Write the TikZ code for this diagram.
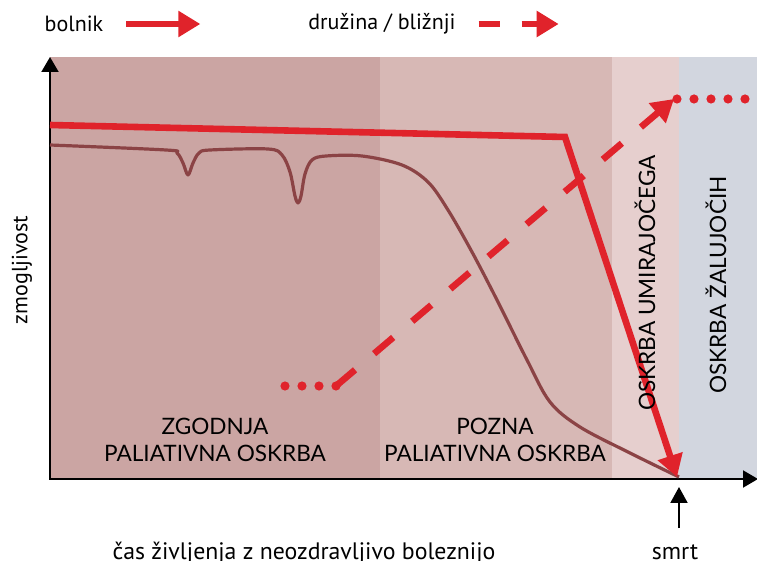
\documentclass[tikz,border=0pt]{standalone}
\usepackage{fontspec}
\setmainfont{PT Sans}
\newfontfamily\velike{Lato}
\usetikzlibrary{arrows.meta}

\definecolor{rdeca}{HTML}{E0232B}
\definecolor{rjava}{HTML}{8B4345}
\definecolor{pasA}{HTML}{CBA5A3}
\definecolor{pasB}{HTML}{D7B8B5}
\definecolor{pasC}{HTML}{E6CFCE}
\definecolor{pasD}{HTML}{D2D6DF}

\tikzset{
  bolnikpot/.style={rdeca, line width=3.3pt, -{Triangle[length=11pt,width=12.5pt]}},
  druzinapot/.style={rdeca, line width=3.3pt, dash pattern=on 12.5pt off 12.5pt,
    -{Triangle[length=11pt,width=12.5pt]}},
  pikice/.style={rdeca, line width=4.6pt, line cap=round, dash pattern=on 0pt off 8.5pt},
  os/.style={black, line width=1pt, -{Triangle[length=7.5pt,width=8.5pt]}},
  obdobje/.style={font=\velike\fontsize{11.3}{13.5}\selectfont, align=center},
  besedilo/.style={font=\fontsize{11}{13}\selectfont},
}

\begin{document}
\begin{tikzpicture}[x=0.5pt,y=-0.5pt]
  \useasboundingbox (0,0) rectangle (757,561);

  % Obdobja oskrbe
  \fill[pasA] (50,57) rectangle (380,479);
  \fill[pasB] (380,57) rectangle (612,479);
  \fill[pasC] (612,57) rectangle (679,479);
  \fill[pasD] (679,57) rectangle (757,479);

  % Osi
  \draw[os] (50,480) -- (50,57);
  \draw[os] (49,479) -- (758,479);

  % Legenda
  \node[besedilo] (bolnik) at (74,24) {bolnik};
  \draw[bolnikpot] ([xshift=8pt]bolnik.east) -- ++(74,0);
  \node[besedilo] (druzina) at (382,24) {družina / bližnji};
  \draw[druzinapot,dash pattern=on 10.5pt off 11pt] ([xshift=8pt]druzina.east) -- ++(80,0);

  % Zmogljivost bolnika (rjava krivulja)
  \draw[rjava, line width=1.6pt, line join=round] plot[smooth, tension=0.55] coordinates {
    (50,145) (166,150) (177,153) (183,163) (188,175) (193,163) (199,153) (210,150) (268,149)
    (282,155) (290,172) (295,196) (298,203) (301,196) (305,174) (312,160) (326,156) (362,156)
    (402,165) (428,182) (448,210) (472,252) (497,300) (527,360) (550,402)
    (580,427) (630,453) (679,477)};

  % Bolnik
  \draw[bolnikpot, line join=miter] (50,125) -- (565,137) -- (677,477);

  % Druzina / bliznji
  \draw[pikice] (285,386) -- (336,386);
  \draw[druzinapot] (336,386) -- (674,99);
  \draw[pikice] (677,99) -- (765,99);

  % Napisi obdobij
  \node[obdobje] (zgodnja) at (215,440) {ZGODNJA\\PALIATIVNA OSKRBA};
  \node[obdobje] (pozna) at (495,440) {POZNA\\PALIATIVNA OSKRBA};
  \node[obdobje, rotate=90] (umirajoci) at (645,283) {OSKRBA UMIRAJOČEGA};
  \node[obdobje, rotate=90] (zalujoci) at (716,285) {OSKRBA ŽALUJOČIH};

  % Opisi osi
  \node[besedilo, rotate=90] (zmogljivost) at (22,270) {zmogljivost};
  \node[besedilo, font=\fontsize{11.9}{14}\selectfont, anchor=base] (cas) at (304,560)
    {čas življenja z neozdravljivo boleznijo};
  \node[besedilo, font=\fontsize{11.9}{14}\selectfont, anchor=base] (smrt) at (675,560) {smrt};
  \coordinate (smrttocka) at (679,487);
  \draw[os, -{Triangle[length=8pt,width=8.5pt]}] ([xshift=2pt,yshift=5pt]smrt.north) -- (smrttocka);
\end{tikzpicture}
\end{document}
